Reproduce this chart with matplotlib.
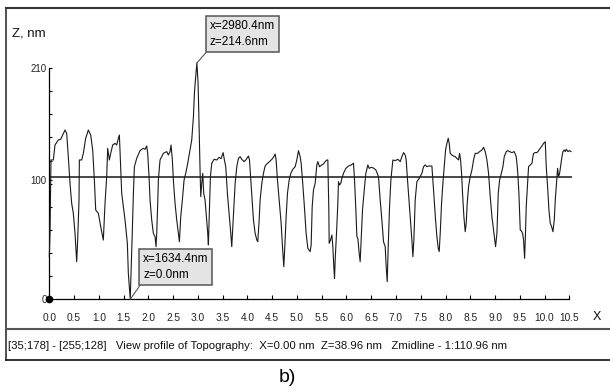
import matplotlib
matplotlib.use('Agg')
import matplotlib.pyplot as plt
from matplotlib import font_manager
from matplotlib.lines import Line2D

names = {f.name for f in font_manager.fontManager.ttflist}
NARROW = 'Liberation Sans Narrow' if 'Liberation Sans Narrow' in names else 'Liberation Sans'
SANS = 'Liberation Sans'

# ---------------- data ----------------
x_um = [0.000, 0.014, 0.034, 0.081, 0.115, 0.182, 0.230, 0.270, 0.317, 0.351, 0.384, 0.418, 0.452, 0.485, 0.519,
        0.553, 0.573, 0.600, 0.607, 0.654, 0.687, 0.735, 0.788, 0.836, 0.876, 0.910, 0.937, 0.990, 1.038, 1.091,
        1.125, 1.159, 1.179, 1.213, 1.240, 1.280, 1.327, 1.361, 1.395, 1.415, 1.435, 1.462, 1.529, 1.576, 1.596,
        1.634, 1.655, 1.675, 1.698, 1.718, 1.765, 1.832, 1.899, 1.933, 1.967, 1.987, 2.014, 2.034, 2.068, 2.101,
        2.135, 2.155, 2.169, 2.189, 2.202, 2.236, 2.303, 2.371, 2.404, 2.438, 2.458, 2.485, 2.505, 2.539, 2.573,
        2.606, 2.627, 2.654, 2.687, 2.721, 2.755, 2.795, 2.829, 2.876, 2.910, 2.930, 2.950, 2.970, 2.980, 3.004,
        3.017, 3.031, 3.044, 3.058, 3.078, 3.098, 3.118, 3.145, 3.172, 3.199, 3.212, 3.233, 3.253, 3.280, 3.327,
        3.381, 3.428, 3.468, 3.509, 3.536, 3.563, 3.596, 3.630, 3.664, 3.684, 3.705, 3.732, 3.752, 3.786, 3.819,
        3.853, 3.887, 3.934, 3.968, 4.021, 4.042, 4.068, 4.095, 4.122, 4.156, 4.190, 4.210, 4.237, 4.257, 4.291,
        4.324, 4.358, 4.392, 4.446, 4.493, 4.526, 4.560, 4.580, 4.607, 4.648, 4.681, 4.708, 4.735, 4.755, 4.782,
        4.809, 4.843, 4.877, 4.917, 4.964, 4.998, 5.031, 5.065, 5.085, 5.112, 5.146, 5.186, 5.220, 5.267, 5.287,
        5.308, 5.334, 5.368, 5.402, 5.422, 5.456, 5.503, 5.537, 5.570, 5.604, 5.624, 5.644, 5.651, 5.678, 5.705,
        5.725, 5.745, 5.759, 5.772, 5.799, 5.826, 5.839, 5.860, 5.886, 5.907, 5.940, 5.988, 6.041, 6.095, 6.142,
        6.163, 6.190, 6.210, 6.230, 6.257, 6.277, 6.297, 6.324, 6.365, 6.392, 6.432, 6.459, 6.499, 6.546, 6.594,
        6.647, 6.681, 6.715, 6.748, 6.782, 6.802, 6.823, 6.843, 6.870, 6.897, 6.937, 6.984, 7.038, 7.085, 7.119,
        7.153, 7.186, 7.206, 7.233, 7.267, 7.301, 7.321, 7.341, 7.361, 7.388, 7.422, 7.469, 7.523, 7.557, 7.590,
        7.624, 7.657, 7.725, 7.745, 7.772, 7.799, 7.826, 7.853, 7.873, 7.893, 7.920, 7.947, 7.974, 8.001, 8.028,
        8.055, 8.075, 8.095, 8.129, 8.162, 8.196, 8.230, 8.263, 8.284, 8.304, 8.324, 8.344, 8.371, 8.398, 8.418,
        8.438, 8.465, 8.499, 8.533, 8.566, 8.600, 8.647, 8.688, 8.735, 8.768, 8.802, 8.836, 8.869, 8.903, 8.937,
        8.970, 9.011, 9.038, 9.065, 9.092, 9.119, 9.159, 9.186, 9.226, 9.253, 9.294, 9.341, 9.388, 9.428, 9.455,
        9.482, 9.509, 9.529, 9.556, 9.576, 9.597, 9.610, 9.630, 9.657, 9.677, 9.711, 9.745, 9.765, 9.778, 9.812,
        9.846, 9.879, 9.913, 9.947, 9.980, 10.014, 10.034, 10.061, 10.088, 10.115, 10.142, 10.169, 10.196, 10.216,
        10.236, 10.263, 10.283, 10.304, 10.331, 10.351, 10.371, 10.398, 10.418, 10.438, 10.472, 10.506, 10.533]
z_nm = [39.0, 60.0, 126.5, 126.5, 140.1, 144.7, 145.3, 149.2, 153.7, 150.7, 129.5, 105.3, 87.1, 78.1, 59.9,
        34.2, 53.8, 90.2, 126.5, 126.5, 132.5, 146.2, 153.7, 149.2, 135.6, 108.3, 81.1, 78.1, 66.0, 53.8,
        87.1, 111.4, 137.1, 126.5, 132.5, 140.1, 141.6, 140.1, 146.2, 149.2, 126.5, 96.2, 72.0, 50.8, 23.6,
        0.0, 29.6, 59.9, 96.2, 120.4, 128.0, 135.0, 137.1, 136.2, 139.2, 132.5, 111.4, 90.2, 72.0, 59.9,
        56.9, 47.8, 59.9, 87.1, 108.3, 126.5, 132.5, 134.1, 131.0, 134.1, 140.1, 126.5, 108.3, 87.1, 72.0,
        59.9, 52.3, 75.0, 90.2, 108.3, 114.4, 123.5, 132.5, 144.7, 165.8, 187.0, 199.1, 209.7, 214.6, 196.1,
        171.9, 141.6, 117.4, 93.2, 105.3, 114.4, 96.2, 90.2, 75.0, 59.9, 49.3, 81.1, 111.4, 123.5, 127.1,
        126.5, 128.9, 127.7, 133.2, 126.5, 120.4, 96.2, 78.1, 59.9, 47.8, 66.0, 90.2, 105.3, 120.4, 128.0,
        129.5, 127.1, 125.0, 126.5, 130.1, 126.5, 108.3, 90.2, 72.0, 59.9, 53.9, 52.3, 72.0, 90.2, 105.3,
        114.4, 121.0, 122.9, 125.0, 127.1, 128.9, 131.9, 126.5, 108.3, 87.1, 69.0, 47.8, 29.6, 47.8, 75.0,
        96.2, 108.3, 114.4, 118.0, 120.4, 126.5, 135.0, 129.5, 123.5, 108.3, 87.1, 59.9, 46.3, 43.3, 49.3,
        84.1, 99.2, 105.3, 122.0, 125.0, 120.4, 122.0, 122.9, 125.0, 126.5, 126.5, 81.1, 50.8, 53.8, 58.4,
        47.8, 29.6, 19.0, 35.7, 59.9, 87.1, 106.8, 103.8, 105.3, 109.8, 114.4, 118.9, 121.0, 122.0, 123.5,
        108.3, 81.1, 56.9, 55.4, 41.7, 34.2, 53.8, 81.1, 102.3, 114.4, 122.0, 118.9, 119.8, 119.2, 117.4,
        111.4, 90.2, 72.0, 52.3, 47.8, 29.6, 16.0, 47.8, 84.1, 108.3, 126.5, 125.9, 127.1, 125.0, 129.5,
        133.2, 131.0, 126.5, 108.3, 87.1, 66.0, 53.8, 38.7, 53.8, 90.2, 106.8, 109.8, 114.4, 120.4, 122.0,
        120.4, 121.0, 121.0, 108.3, 90.2, 72.0, 56.9, 46.3, 43.3, 59.9, 87.1, 105.3, 120.4, 135.6, 141.6,
        146.2, 141.6, 132.5, 131.0, 130.1, 129.5, 128.0, 126.5, 132.5, 126.5, 114.4, 96.2, 75.0, 61.4, 69.0,
        87.1, 102.3, 111.4, 117.4, 126.5, 132.5, 132.5, 134.1, 135.6, 138.0, 134.1, 126.5, 114.4, 93.2, 75.0,
        62.9, 47.8, 59.9, 96.2, 108.3, 112.9, 120.4, 129.5, 134.1, 135.0, 134.1, 133.2, 134.1, 129.5, 117.4,
        96.2, 62.9, 62.3, 59.9, 53.8, 37.2, 53.8, 84.1, 105.3, 120.4, 122.0, 123.5, 129.5, 132.5, 133.2,
        133.2, 135.0, 137.1, 139.2, 141.6, 143.1, 120.4, 102.3, 81.1, 69.0, 66.0, 61.4, 72.0, 90.2,
        102.3, 118.9, 111.4, 114.4, 123.5, 129.5, 134.1, 135.6, 134.1, 136.2, 134.1, 135.0, 134.1]

z_midline = 110.96
peak_point = (2.9804, 214.6)
low_point = (1.6344, 0.0)
peak_label = 'x=2980.4nm\nz=214.6nm'
low_label = 'x=1634.4nm\nz=0.0nm'

xtick_pos = [0.0, 0.5, 1.0, 1.5, 2.0, 2.5, 3.0, 3.5, 4.0, 4.5, 5.0, 5.5, 6.0, 6.5, 7.0, 7.5, 8.0, 8.5, 9.0,
             9.5, 10.0, 10.5]
xtick_labels = ['0.0', '0.5', '1.0', '1.5', '2.0', '2.5', '3.0', '3.5', '4.0', '4.5', '5.0', '5.5', '6.0',
                '6.5', '7.0', '7.5', '8.0', '8.5', '9.0', '9.5', '10.0', '10.5']
ytick_minor = [0, 21, 42, 63, 84, 105, 126, 147, 168, 189, 210]
ytick_major = [0, 108, 210]
ytick_labels = ['0', '100', '210']

status_text = '[35;178] - [255;128]   View profile of Topography:  X=0.00 nm  Z=38.96 nm   Zmidline - 1:110.96 nm'

# ---------------- figure ----------------
W, H = 610, 392
fig = plt.figure(figsize=(W / 100, H / 100), dpi=100)
fig.patch.set_facecolor('white')

x0, x1 = 49.3, 572.3
ytop, ybot = 51.5, 299.3
ax = fig.add_axes([x0 / W, (H - ybot) / H, (x1 - x0) / W, (ybot - ytop) / H])
ax.set_xlim(0, 10.56)
ax.set_ylim(0, 225)
ax.patch.set_alpha(0)

for s in ['top', 'right']:
    ax.spines[s].set_visible(False)
ax.spines['left'].set_bounds(0, 210)
ax.spines['bottom'].set_bounds(0, 10.5)
ax.spines['left'].set_linewidth(0.9)
ax.spines['bottom'].set_linewidth(0.9)

ax.set_xticks(xtick_pos)
ax.set_xticklabels(xtick_labels, family=NARROW, fontsize=7.3, color='#222222')
ax.tick_params(axis='x', direction='in', length=3.2, width=0.8, pad=10)
ax.set_yticks(ytick_major)
ax.set_yticklabels(ytick_labels, family=NARROW, fontsize=7.0, color='#222222')
ax.set_yticks(ytick_minor, minor=True)
ax.tick_params(axis='y', which='major', direction='in', length=2.5, width=0.8, pad=2)
ax.tick_params(axis='y', which='minor', direction='in', length=2.5, width=0.8)

ax.axhline(z_midline, xmin=0, xmax=1, color='#3a3a3a', lw=1.3, zorder=2)
ax.plot(x_um, z_nm, color='#1a1a1a', lw=0.8, clip_on=False, zorder=3)
ax.plot([0], [0], marker='o', ms=4.5, color='black', clip_on=False, zorder=4)

box = dict(boxstyle='square,pad=0.3', fc='#e4e4e4', ec='#555555', lw=1.1)
arrow = dict(arrowstyle='-', color='#555555', lw=0.8, relpos=(0, 0), shrinkA=0, shrinkB=0)
ax.annotate(peak_label, xy=peak_point, xycoords='data', xytext=(210 / W, 1 - 48 / H),
            textcoords='figure fraction', ha='left', va='bottom', fontsize=8.5, family=NARROW,
            linespacing=1.45, bbox=box, arrowprops=arrow, zorder=5, annotation_clip=False)
ax.annotate(low_label, xy=low_point, xycoords='data', xytext=(143 / W, 1 - 281 / H),
            textcoords='figure fraction', ha='left', va='bottom', fontsize=8.5, family=NARROW,
            linespacing=1.45, bbox=box, arrowprops=arrow, zorder=5, annotation_clip=False)

fig.text(12 / W, 1 - 34 / H, 'Z, nm', fontsize=9.5, family=NARROW, va='center', ha='left', color='#111111')
fig.text(597 / W, 1 - 317 / H, 'X', fontsize=9, family=NARROW, va='center', ha='center', color='#111111')
fig.text(8 / W, 1 - 346 / H, status_text, fontsize=8.2, family=NARROW, va='center', ha='left', color='#111111')
fig.text(287 / W, 1 - 378 / H, 'b)', fontsize=14, family=SANS, va='center', ha='center', color='black')

# window frame
def fline(xs, ys, **kw):
    fig.add_artist(Line2D([v / W for v in xs], [1 - v / H for v in ys], transform=fig.transFigure, **kw))

fline([6, W], [8, 8], color='#333333', lw=1.5)
fline([6, 6], [8, 360], color='#333333', lw=1.2)
fline([6, W], [329, 329], color='#555555', lw=1.5)
fline([6, W], [360, 360], color='#111111', lw=1.2)

fig.savefig('out.png', dpi=100, facecolor='white')
